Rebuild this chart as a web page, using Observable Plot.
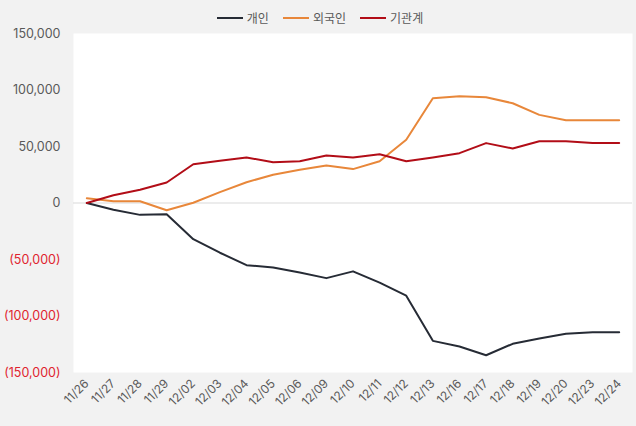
<!DOCTYPE html>
<html>
<head>
<meta charset="utf-8">
<script src="https://cdn.jsdelivr.net/npm/d3@7"></script>
<script src="https://cdn.jsdelivr.net/npm/@observablehq/plot@0.6"></script>
<style>
  html, body { margin: 0; padding: 0; background: #f2f2f2; }
  body { width: 636px; height: 426px; position: relative; overflow: hidden; font-family: Inter, "Noto Sans CJK KR", sans-serif; }
  #legend { position: absolute; top: 9px; left: 0; width: 636px; display: flex; justify-content: center; gap: 14px; font-size: 12px; color: #595959; padding-left: 4px; box-sizing: border-box; font-family: "Noto Sans CJK KR", sans-serif; }
  .item { display: flex; align-items: center; gap: 4px; }
  .sw { width: 26px; height: 2px; display: inline-block; }
  #chart { position: absolute; top: 0; left: 0; }
</style>
</head>
<body>
<div id="legend"></div>
<div id="chart"></div>
<script>
const dates = ["11/26","11/27","11/28","11/29","12/02","12/03","12/04","12/05","12/06","12/09","12/10","12/11","12/12","12/13","12/16","12/17","12/18","12/19","12/20","12/23","12/24"];
const seriesNames = ["개인","외국인","기관계"];
const individual = [0,-6000,-10500,-10000,-32000,-44000,-55000,-57000,-61500,-66500,-60500,-70500,-82000,-122000,-127000,-134700,-124600,-120000,-115800,-114300,-114300];
const foreign = [4200,1600,1600,-6400,200,9600,18400,25000,29400,33200,30000,37000,56000,92700,94500,93600,88300,78000,73300,73300,73300];
const institution = [0,6900,11700,18100,34300,37300,40300,36100,37000,42000,40300,43200,37000,40300,44100,53000,48200,54700,54700,53000,53000];
const colors = ["#262b35","#e8873a","#b20d17"];
const yTicks = [150000,100000,50000,0,-50000,-100000,-150000];

const valuesBySeries = [individual, foreign, institution];
const rows = [];
seriesNames.forEach((s, i) => dates.forEach((d, j) => rows.push({series: s, date: d, value: valuesBySeries[i][j]})));

const fmt = d3.format(",");
const yLabel = d => d < 0 ? `(${fmt(-d)})` : fmt(d);

const chart = Plot.plot({
  width: 636,
  height: 426,
  marginTop: 33,
  marginBottom: 54,
  marginLeft: 73,
  marginRight: 4,
  style: {background: "transparent", fontFamily: "Inter, 'Noto Sans CJK KR', sans-serif"},
  x: {type: "point", domain: dates, padding: 0.5, round: false},
  y: {domain: [-150000, 150000], axis: null},
  color: {domain: seriesNames, range: colors},
  marks: [
    Plot.frame({fill: "white", stroke: null}),
    Plot.ruleY([0], {stroke: "#d9d9d9", strokeWidth: 1}),
    Plot.axisX({tickRotate: -45, tickSize: 0, tickPadding: 9, fontSize: 12, fill: "#595959", label: null}),
    Plot.text(yTicks, {y: d => d, text: yLabel, frameAnchor: "left", dx: -13, textAnchor: "end", fontSize: 12.5, fill: d => d < 0 ? "#e0242e" : "#595959"}),
    Plot.line(rows, {x: "date", y: "value", z: "series", stroke: "series", strokeWidth: 2})
  ]
});
document.getElementById("chart").appendChild(chart);

const legend = document.getElementById("legend");
seriesNames.forEach((s, i) => {
  const it = document.createElement("div");
  it.className = "item";
  it.innerHTML = `<span class="sw" style="background:${colors[i]}"></span><span>${s}</span>`;
  legend.appendChild(it);
});
</script>
</body>
</html>
